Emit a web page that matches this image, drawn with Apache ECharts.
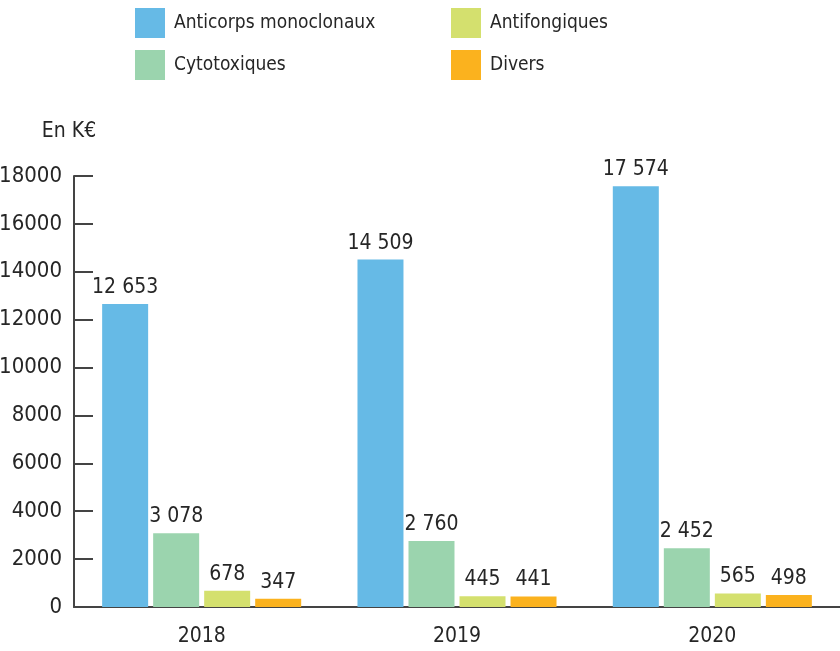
<!DOCTYPE html>
<html>
<head>
<meta charset="utf-8">
<script src="https://cdn.jsdelivr.net/npm/echarts@6/dist/echarts.min.js"></script>
<style>
  html, body { margin: 0; padding: 0; background: #fff; }
  #chart { width: 840px; height: 651px; }
</style>
</head>
<body>
<div id="chart"></div>
<script>
// Annual spending by drug family, in thousands of euros
const years = ['2018', '2019', '2020'];
const anticorps = [12653, 14509, 17574];
const cytotoxiques = [3078, 2760, 2452];
const antifongiques = [678, 445, 565];
const divers = [347, 441, 498];
const yTicks = [0, 2000, 4000, 6000, 8000, 10000, 12000, 14000, 16000, 18000];

const FONT = '"DejaVu Sans Condensed", "Liberation Sans Narrow", sans-serif';
const INK = '#262626';

const fmt = v => String(v).replace(/\B(?=(\d{3})+(?!\d))/g, ' ');

function bar(name, data, color) {
  return {
    name, type: 'bar', data,
    barWidth: 46, barGap: '10.9%',
    itemStyle: { color },
    label: {
      show: true, position: 'top', distance: 6,
      color: INK, fontFamily: FONT, fontSize: 21,
      formatter: p => fmt(p.value)
    }
  };
}

const legendBase = {
  orient: 'vertical', top: 3, itemWidth: 30, itemHeight: 30, itemGap: 12,
  icon: 'rect',
  textStyle: { color: INK, fontFamily: FONT, fontSize: 19, padding: [0, 0, 0, 4] }
};

const chart = echarts.init(document.getElementById('chart'));
chart.setOption({
  animation: false,
  legend: [
    Object.assign({}, legendBase, { left: 130, data: ['Anticorps monoclonaux', 'Cytotoxiques'] }),
    Object.assign({}, legendBase, { left: 446, data: ['Antifongiques', 'Divers'] })
  ],
  grid: { left: 74, right: 0, top: 176, bottom: 44, containLabel: false, outerBoundsMode: 'none' },
  xAxis: {
    type: 'category', data: years,
    axisLine: { lineStyle: { color: '#444', width: 2 } },
    axisTick: { inside: true, length: 10, lineStyle: { color: '#444', width: 2 } },
    axisLabel: { color: INK, fontFamily: FONT, fontSize: 21, margin: 19 }
  },
  yAxis: {
    type: 'value', min: 0, max: 18000, interval: 2000,
    name: 'En K€', nameLocation: 'end', nameGap: 34,
    nameTextStyle: { color: INK, fontFamily: FONT, fontSize: 21, align: 'center', padding: [0, 10, 0, 0] },
    splitLine: { show: false },
    axisLine: { show: true, lineStyle: { color: '#444', width: 2 } },
    axisTick: { show: true, inside: true, length: 19, lineStyle: { color: '#444', width: 2 } },
    axisLabel: {
      color: INK, fontFamily: FONT, fontSize: 22, margin: 12,
      formatter: v => yTicks.includes(v) ? String(v) : ''
    }
  },
  series: [
    bar('Anticorps monoclonaux', anticorps, '#66BAE6'),
    bar('Cytotoxiques', cytotoxiques, '#9BD4AE'),
    bar('Antifongiques', antifongiques, '#D4E06E'),
    bar('Divers', divers, '#FBB21E')
  ]
});
</script>
</body>
</html>
